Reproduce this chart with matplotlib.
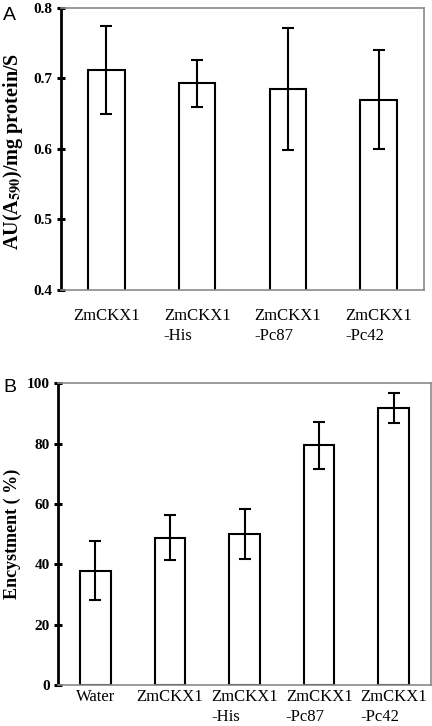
from matplotlib import pyplot as plt
import numpy as np

plt.rcParams['font.family'] = ['Liberation Serif', 'DejaVu Serif']
plt.rcParams['mathtext.fontset'] = 'stix'

# panel A: enzyme activity
labels_a = ['ZmCKX1', 'ZmCKX1\n-His', 'ZmCKX1\n-Pc87', 'ZmCKX1\n-Pc42']
activity = [0.712, 0.693, 0.685, 0.670]
activity_err = [0.063, 0.033, 0.087, 0.070]

# panel B: encystment
labels_b = ['Water', 'ZmCKX1', 'ZmCKX1\n-His', 'ZmCKX1\n-Pc87', 'ZmCKX1\n-Pc42']
encyst = [37.9, 48.8, 50.0, 79.4, 91.8]
encyst_err = [9.8, 7.4, 8.3, 7.9, 4.9]

fig = plt.figure(figsize=(4.32, 7.26), dpi=100)
ax_a = fig.add_axes([0.1412, 0.6006, 0.8403, 0.3884])
ax_b = fig.add_axes([0.1343, 0.0565, 0.8634, 0.4155])


def style(ax, pad):
    for side in ['top', 'right', 'bottom']:
        ax.spines[side].set_color('#8a8a8a')
        ax.spines[side].set_linewidth(1.2)
    ax.spines['left'].set_color('black')
    ax.spines['left'].set_linewidth(2)
    ax.tick_params(axis='y', direction='inout', length=6, width=2.2, pad=3,
                   labelsize=11)
    ax.tick_params(axis='x', length=0, pad=pad, labelsize=12)
    for t in ax.get_yticklabels():
        t.set_fontweight('bold')
    for t in ax.get_xticklabels():
        t.set_multialignment('left')
        t.set_linespacing(1.35)


x_a = np.arange(len(labels_a))
ax_a.bar(x_a, activity, width=0.4, color='white', edgecolor='black',
         linewidth=1.5, yerr=activity_err, capsize=4,
         error_kw=dict(elinewidth=1.5, capthick=1.5, ecolor='black'))
ax_a.set_xlim(-0.5, 3.5)
ax_a.set_ylim(0.4, 0.8)
ax_a.set_yticks([0.4, 0.5, 0.6, 0.7, 0.8])
ax_a.set_yticklabels(['0.4', '0.5', '0.6', '0.7', '0.8'])
ax_a.set_xticks(x_a)
ax_a.set_xticklabels(labels_a)
ax_a.set_ylabel(r'AU(A$_{\mathbf{590}}$)/mg protein/S', fontsize=14.5,
                fontweight='bold')
ax_a.yaxis.set_label_coords(-0.098, 0.49)
style(ax_a, 13)

x_b = np.arange(len(labels_b))
ax_b.bar(x_b, encyst, width=0.41, color='white', edgecolor='black',
         linewidth=1.5, yerr=encyst_err, capsize=4,
         error_kw=dict(elinewidth=1.5, capthick=1.5, ecolor='black'))
ax_b.set_xlim(-0.5, 4.5)
ax_b.set_ylim(0, 100)
ax_b.set_yticks([0, 20, 40, 60, 80, 100])
ax_b.set_xticks(x_b)
ax_b.set_xticklabels(labels_b)
ax_b.set_ylabel('Encystment ( %)', fontsize=13, fontweight='bold')
ax_b.yaxis.set_label_coords(-0.099, 0.5)
style(ax_b, 3)

fig.text(0.007, 0.979, 'A', fontsize=14, family='Liberation Sans', va='center')
fig.text(0.007, 0.466, 'B', fontsize=14, family='Liberation Sans', va='center')

plt.savefig('out.png', dpi=100)
